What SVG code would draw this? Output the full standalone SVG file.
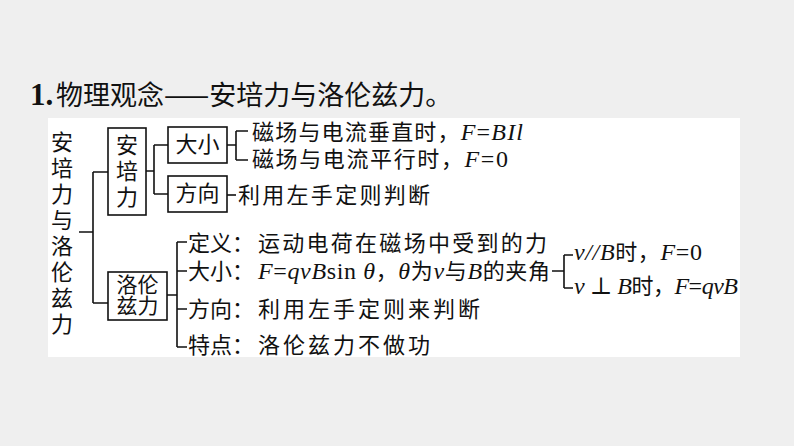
<svg xmlns="http://www.w3.org/2000/svg" width="794" height="446" viewBox="0 0 794 446">
<style>
.cn{font-family:"Noto Sans CJK SC","Noto Sans",sans-serif;font-size:22px;fill:#111}
.bx{font-family:"Noto Sans CJK SC","Noto Sans",sans-serif;font-size:21px;fill:#111}
.ti{font-family:"Noto Sans CJK SC","Noto Sans",sans-serif;font-size:27px;fill:#111}
.it{font-family:"Liberation Serif","DejaVu Serif",serif;font-style:italic;font-size:24px}
.rm{font-family:"Liberation Serif","DejaVu Serif",serif;font-style:normal;font-size:24px}
.box{fill:#fff;stroke:#111;stroke-width:1.6}
.ln{fill:none;stroke:#111;stroke-width:1.6}
.mid{text-anchor:middle}
</style>
<rect x="0" y="0" width="794" height="446" fill="#efefef"/>
<rect x="48" y="118" width="692" height="239" fill="#ffffff"/>
<g id="title">
<text x="30" y="105" font-family="Liberation Serif,serif" font-weight="bold" font-size="31" fill="#111">1.</text>
<text class="ti" x="56" y="105">物理观念——安培力与洛伦兹力。</text>
</g>
<g id="connectors" class="ln">
<path d="M79,232 H93 M93,172 V303 M93,172 H108 M93,303 H108"/>
<path d="M146,171 H154 M154,145 V194 M154,145 H168 M154,194 H168"/>
<path d="M227,145 H236 M236,131 V160 M236,131 H248 M236,160 H248"/>
<path d="M227,195 H236"/>
<path d="M167,295 H177 M177,242 V347 M177,242 H187 M177,271 H187 M177,309 H187 M177,347 H187"/>
<path d="M552,271 H564 M564,255 V288 M564,255 H573 M564,288 H573"/>
</g>
<g id="root">
<text class="cn mid"><tspan x="62" y="150.4">安</tspan><tspan x="62" y="176.4">培</tspan><tspan x="62" y="202.4">力</tspan><tspan x="62" y="228.4">与</tspan><tspan x="62" y="254.4">洛</tspan><tspan x="62" y="280.4">伦</tspan><tspan x="62" y="306.4">兹</tspan><tspan x="62" y="332.4">力</tspan></text>
</g>
<g id="ampere">
<rect class="box" x="108" y="128" width="38" height="87"/>
<text class="cn mid"><tspan x="127" y="153.4">安</tspan><tspan x="127" y="179.4">培</tspan><tspan x="127" y="205.4">力</tspan></text>
</g>
<g id="ampere-size">
<rect class="box" x="168" y="127" width="59" height="36"/>
<text class="cn mid" x="197.5" y="152.4">大小</text>
</g>
<g id="ampere-dir">
<rect class="box" x="168" y="176" width="59" height="36"/>
<text class="cn mid" x="197.5" y="201.4">方向</text>
</g>
<g id="ampere-perp">
<text class="cn" x="252" y="140.4" textLength="271" lengthAdjust="spacing">磁场与电流垂直时，<tspan class="it">F</tspan><tspan class="rm">=</tspan><tspan class="it">BIl</tspan></text>
</g>
<g id="ampere-para">
<text class="cn" x="252" y="167.4" textLength="256" lengthAdjust="spacing">磁场与电流平行时，<tspan class="it">F</tspan><tspan class="rm">=0</tspan></text>
</g>
<g id="ampere-rule">
<text class="cn" x="238" y="203.4" textLength="192" lengthAdjust="spacing">利用左手定则判断</text>
</g>
<g id="lorentz">
<rect class="box" x="108" y="272" width="59" height="48"/>
<text class="bx mid"><tspan x="137.5" y="291.5">洛伦</tspan><tspan x="137.5" y="313">兹力</tspan></text>
</g>
<g id="lorentz-def">
<text class="cn"><tspan x="188" y="251.4">定义：</tspan><tspan x="258" y="251.4" textLength="289" lengthAdjust="spacing">运动电荷在磁场中受到的力</tspan></text>
</g>
<g id="lorentz-size">
<text class="cn"><tspan x="188" y="279.4">大小：</tspan></text>
<text class="cn" x="258" y="279.4" textLength="292" lengthAdjust="spacing"><tspan class="it">F</tspan><tspan class="rm">=</tspan><tspan class="it">qvB</tspan><tspan class="rm">sin</tspan><tspan class="it"> θ</tspan>，<tspan class="it">θ</tspan>为<tspan class="it">v</tspan>与<tspan class="it">B</tspan>的夹角</text>
</g>
<g id="lorentz-para">
<text class="cn" x="574" y="260.4" textLength="128" lengthAdjust="spacing"><tspan class="it">v//B</tspan>时，<tspan class="it">F</tspan><tspan class="rm">=0</tspan></text>
</g>
<g id="lorentz-perp">
<text class="cn" x="574" y="294.4" textLength="164" lengthAdjust="spacing"><tspan class="it">v</tspan><tspan class="rm"> ⊥ </tspan><tspan class="it">B</tspan>时，<tspan class="it">F</tspan><tspan class="rm">=</tspan><tspan class="it">qvB</tspan></text>
</g>
<g id="lorentz-dir">
<text class="cn"><tspan x="188" y="317.4">方向：</tspan><tspan x="258" y="317.4" textLength="222" lengthAdjust="spacing">利用左手定则来判断</tspan></text>
</g>
<g id="lorentz-feat">
<text class="cn"><tspan x="188" y="353.4">特点：</tspan><tspan x="258" y="353.4" textLength="172" lengthAdjust="spacing">洛伦兹力不做功</tspan></text>
</g>
</svg>
